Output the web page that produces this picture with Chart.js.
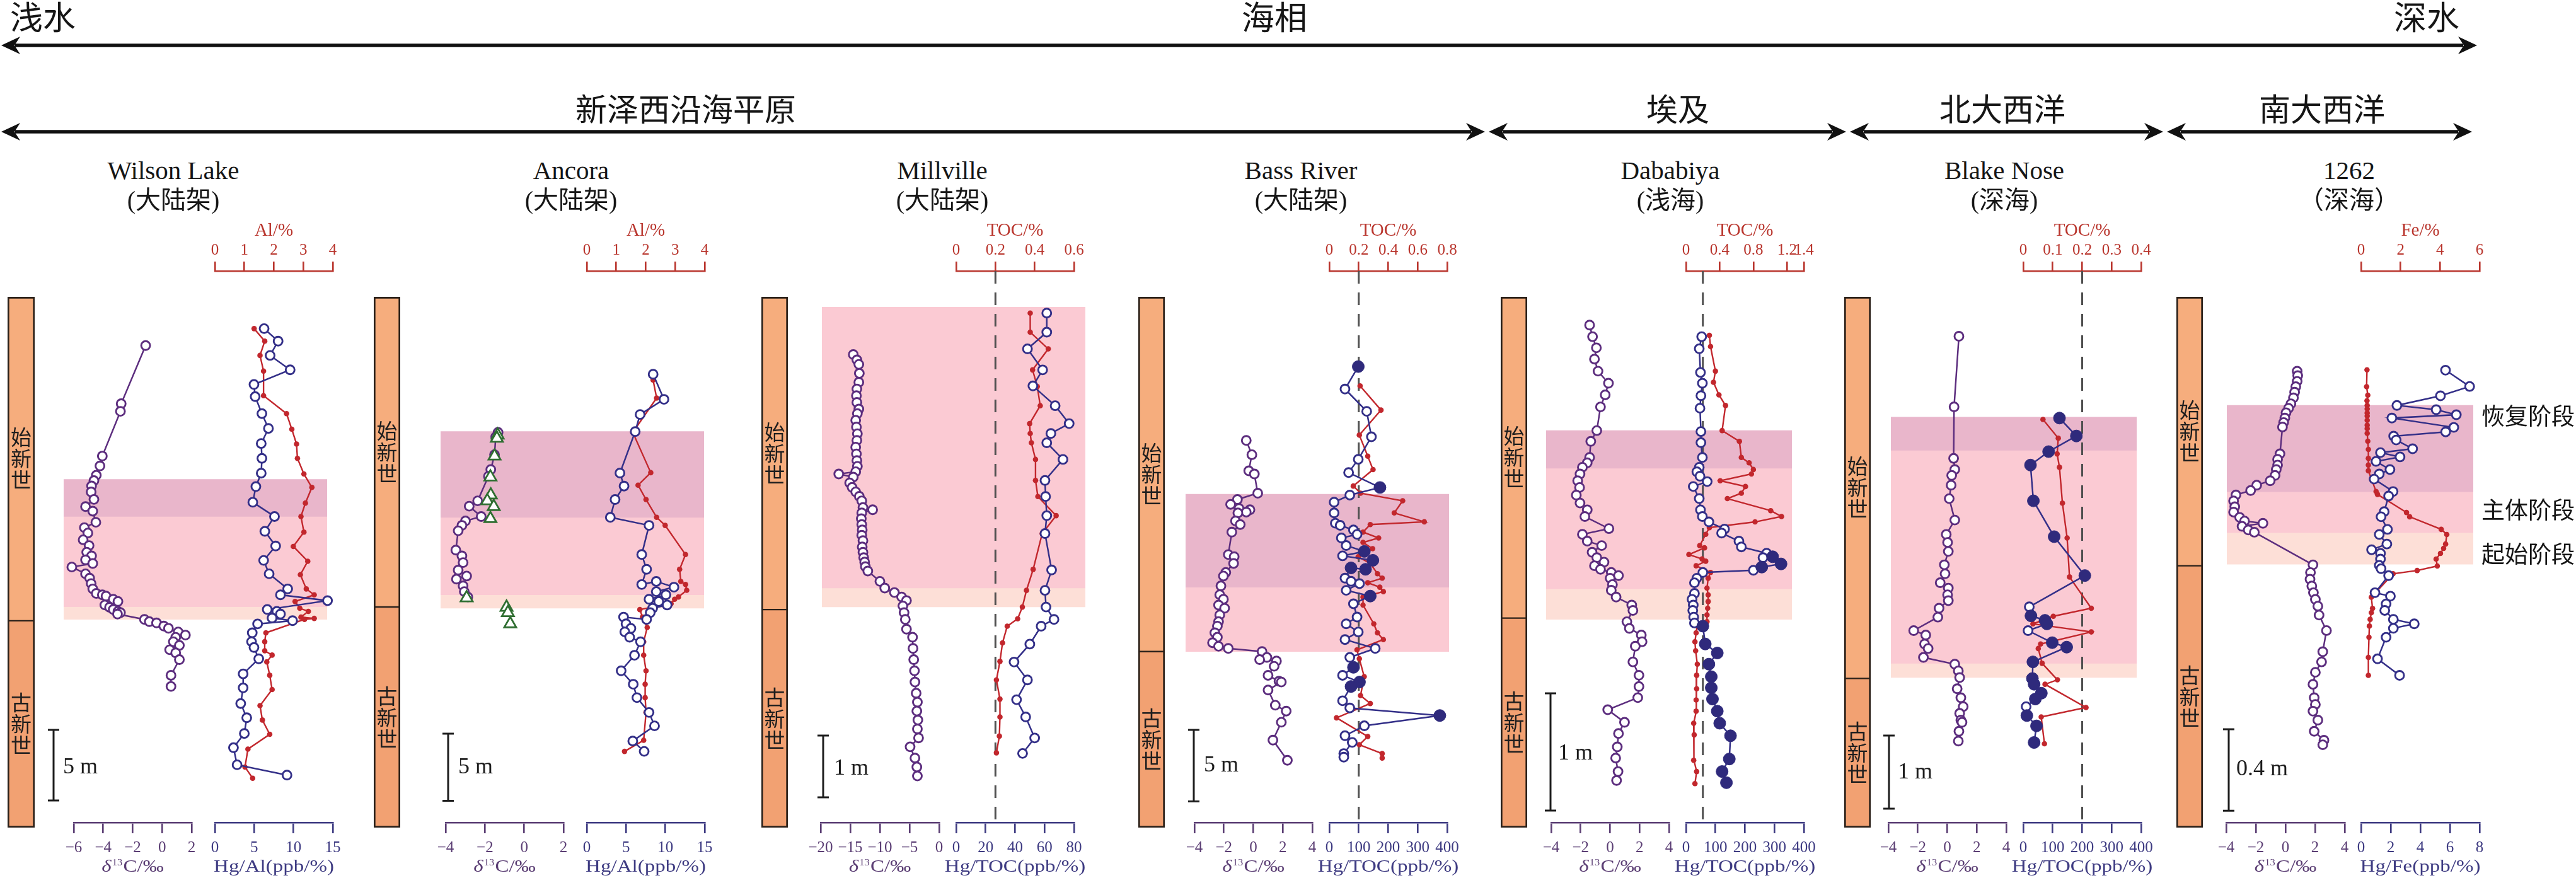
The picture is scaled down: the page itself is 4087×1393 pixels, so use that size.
<!DOCTYPE html>
<html lang="zh">
<head>
<meta charset="utf-8">
<title>PETM 汞记录</title>
<script src="https://cdn.jsdelivr.net/npm/chart.js@4.4.1/dist/chart.umd.min.js"></script>
<style>
html,body{margin:0;padding:0;background:#ffffff;}
#root{position:relative;width:4087px;height:1393px;overflow:hidden;background:#ffffff;}
#root canvas{position:absolute;}
#root svg{position:absolute;left:0;top:0;}
.lbl{position:absolute;white-space:nowrap;line-height:1;color:#161616;font-family:"Liberation Serif","Noto Sans CJK SC",serif;z-index:5;}
.c{transform:translate(-50%,-50%);}
.l{transform:translate(0,-50%);}
</style>
</head>
<body>
<div id="root"></div>
<script>
// ===================== DATA (depth in m) =====================
// ---- Wilson Lake ----
const wlD13cDepth = [5.32,9.44,9.98,13.15,13.85,14.51,14.89,15.27,15.69,16.22,16.73,17.05,17.84,18.22,18.60,19.08,19.49,19.96,20.22,20.50,20.76,21.01,21.49,21.80,22.18,22.56,22.88,22.98,23.07,23.29,23.45,23.70,23.86,24.02,24.15,24.24,24.34,24.72,24.88,24.97,25.19,25.35,25.61,25.83,25.99,26.30,26.56,26.87,27.09,27.57,28.68,29.47];
const wlD13cValue = [-1.12,-2.78,-2.83,-4.06,-4.22,-4.47,-4.63,-4.79,-4.82,-4.63,-5.20,-4.71,-4.50,-5.28,-5.04,-5.36,-4.96,-5.12,-4.79,-5.20,-4.71,-6.13,-5.20,-4.92,-4.82,-4.71,-4.47,-4.06,-3.81,-3.32,-3.00,-3.89,-3.57,-3.32,-3.00,-2.83,-3.03,-1.20,-0.87,-0.38,0.11,0.43,1.09,1.58,0.92,0.76,1.17,0.51,0.92,1.17,0.60,0.60];
const wlHgDepth = [4.12,5.01,6.02,7.04,8.08,8.94,10.14,11.19,12.26,13.31,14.36,15.31,16.42,17.43,18.48,19.52,20.54,21.49,22.56,22.98,23.39,24.02,24.15,24.34,24.62,24.81,25.04,25.67,26.30,26.71,27.51,28.58,29.57,30.68,31.69,32.80,33.81,35.02,35.75];
const wlHgValue = [6.26,8.04,7.02,9.57,4.97,5.12,5.98,6.81,5.89,5.98,5.89,5.21,4.82,7.58,6.35,7.73,6.20,6.90,9.26,8.34,14.33,6.66,7.88,8.34,7.27,9.88,5.43,4.75,4.66,4.97,5.58,3.59,3.59,3.28,4.05,3.74,2.36,2.82,9.17];
const wlAlDepth = [4.12,5.01,6.02,7.13,8.87,10.14,11.25,12.30,13.31,14.42,15.37,16.48,17.43,18.54,19.55,20.60,21.55,22.56,22.98,23.45,23.93,24.15,24.56,24.65,24.72,25.67,26.30,26.94,27.25,27.73,28.68,29.69,30.83,31.85,32.86,33.91,35.18,35.97];
const wlAlValue = [1.33,1.69,1.53,1.65,1.65,2.43,2.61,2.77,2.80,3.02,3.29,3.07,2.92,3.02,2.66,3.15,2.90,3.10,3.37,2.72,2.88,3.17,2.92,3.37,3.04,1.73,1.69,1.69,1.94,1.76,1.86,1.94,1.53,1.61,1.86,1.12,1.02,1.28];
const wlPhaseDepths = [14.80,17.43,23.83,24.72];
const wlPhaseNames = ['恢复阶段','主体阶段','起始阶段'];
const wlBoundary = 24.81;

// ---- Ancora ----
const ancD13cDepth = [12.06,12.40,13.73,14.83,15.33,17.16,17.56,18.33,18.66,18.99,19.39,20.83,21.26,21.76,22.32,22.76,22.99,23.49,23.92,24.32];
const ancD13cValue = [-1.33,-1.45,-1.51,-1.70,-1.82,-2.37,-2.80,-2.19,-2.99,-3.17,-3.36,-3.48,-3.17,-3.11,-3.36,-2.93,-3.45,-3.11,-3.05,-2.87];
const ancTriDepth = [12.26,12.50,13.83,15.39,16.73,17.16,17.59,18.49,24.39,25.09,25.49,26.32];
const ancTriValue = [-1.35,-1.39,-1.51,-1.72,-1.70,-1.88,-1.55,-1.72,-2.93,-0.90,-0.83,-0.71];
const ancHgDepth = [7.73,9.60,10.73,12.00,15.09,16.06,17.06,18.39,18.99,21.16,22.26,23.39,23.16,23.59,23.92,24.16,24.49,24.66,24.92,25.16,25.49,25.99,25.82,26.32,26.66,26.92,27.32,27.66,28.66,29.82,30.82,31.82,32.92,33.92,35.05,35.82];
const ancHgValue = [8.44,9.82,6.78,6.16,4.22,4.74,3.60,2.99,7.92,6.99,7.61,6.99,8.84,11.09,8.84,10.07,7.92,9.15,10.22,8.38,8.07,7.61,4.68,4.99,5.61,4.84,5.45,6.84,6.07,4.37,5.91,6.38,7.92,8.62,5.85,7.30];
const ancAlDepth = [8.16,9.50,12.06,15.06,15.99,17.06,18.39,18.99,21.16,22.26,23.16,23.39,23.82,24.32,24.49,24.82,25.26,25.82,26.59,27.66,28.66,29.82,30.82,31.82,32.92,34.99,35.82];
const ancAlValue = [2.25,2.37,1.56,2.17,1.74,2.01,2.37,2.66,3.35,3.15,3.19,3.35,3.39,3.11,2.98,2.86,1.80,1.89,2.05,1.93,1.93,2.01,1.98,1.98,2.01,1.93,1.28];
const ancPhaseDepths = [12.00,18.39,24.16,25.16];
const ancPhaseNames = ['恢复阶段','主体阶段','起始阶段'];
const ancBoundary = 25.06;

// ---- Millville ----
const milD13cDepth = [1.362,1.449,1.521,1.666,1.811,1.919,2.028,2.137,2.245,2.318,2.426,2.535,2.644,2.752,2.861,2.970,3.078,3.172,3.259,3.296,3.346,3.440,3.513,3.585,3.658,3.730,3.839,3.875,3.926,4.020,4.114,4.201,4.288,4.375,4.476,4.563,4.650,4.722,4.795,4.867,5.034,5.143,5.215,5.287,5.345,5.432,5.541,5.650,5.809,5.939,6.120,6.301,6.482,6.664,6.845,6.990,7.134,7.279,7.424,7.569,7.713,7.895,8.040,8.185];
const milD13cValue = [-14.49,-13.88,-13.55,-13.47,-13.55,-13.88,-13.96,-13.88,-13.55,-13.80,-14.08,-13.96,-13.80,-13.88,-14.08,-13.96,-13.88,-13.80,-14.08,-16.94,-14.49,-15.10,-14.69,-14.08,-13.47,-13.06,-12.86,-11.22,-13.06,-13.14,-13.06,-12.98,-13.06,-12.86,-12.98,-12.86,-12.73,-12.57,-12.45,-12.04,-10.00,-9.18,-7.55,-6.33,-5.51,-6.12,-5.92,-5.71,-5.51,-4.49,-4.41,-4.29,-4.16,-4.08,-3.88,-3.67,-3.76,-3.59,-3.67,-3.47,-4.90,-4.08,-3.76,-3.67];
const milHgDepth = [0.69,1.00,1.27,1.61,1.87,2.19,2.48,2.64,2.79,3.06,3.40,3.66,3.97,4.26,4.85,5.18,5.45,5.65,5.76,6.05,6.34,6.63,6.95,7.23,7.57,7.82];
const milHgValue = [61.5,61.5,48.4,58.7,52.1,67.2,76.7,64.3,61.5,72.5,60.3,60.7,61.5,60.3,64.8,60.3,61.0,66.4,57.7,50.0,39.3,48.4,41.0,47.2,53.3,45.1];
const milTocDepth = [0.69,1.00,1.27,1.61,1.88,2.19,2.48,2.64,2.79,3.06,3.40,3.66,3.97,4.26,4.84,5.18,5.45,5.64,5.76,6.03,6.33,6.63,6.94,7.23,7.54,7.81];
const milTocValue = [0.377,0.377,0.469,0.389,0.413,0.428,0.374,0.377,0.383,0.404,0.404,0.416,0.509,0.438,0.392,0.358,0.337,0.313,0.260,0.236,0.223,0.205,0.223,0.223,0.220,0.205];
const milPhaseDepths = [0.594,5.143,5.447];
const milPhaseNames = ['主体阶段','起始阶段'];
const milBoundary = 5.49;

// ---- Bass River ----
const brD13cDepth = [11.88,12.88,14.01,14.23,15.57,16.01,16.35,16.64,16.73,16.89,16.95,17.51,17.76,18.29,19.86,20.01,20.48,21.11,21.36,22.05,22.67,22.98,23.39,23.61,24.08,24.55,24.86,25.33,25.64,26.02,26.27,26.42,26.64,27.05,27.20,27.30,27.67,28.30,28.71,28.77,29.33,30.39,30.80,31.58,32.83,34.24];
const brD13cValue = [-0.48,-0.10,-0.31,0.07,0.30,-1.08,-1.54,-0.97,-0.23,-0.48,-1.05,-1.21,-0.89,-1.46,-1.70,-1.30,-1.34,-1.87,-2.03,-2.20,-2.28,-2.03,-2.36,-1.95,-2.28,-2.36,-2.44,-2.61,-2.44,-2.77,-2.36,-1.70,0.59,0.92,0.43,1.57,1.41,1.00,1.74,1.90,1.00,1.49,2.23,1.90,1.33,2.31];
const brHgDepth = [6.72,8.29,9.85,11.63,13.20,14.13,15.17,15.70,16.20,16.95,17.67,17.82,18.14,18.45,18.70,19.23,19.64,19.95,20.26,20.89,20.79,21.51,21.73,21.89,22.36,22.76,23.30,24.23,24.70,25.27,25.80,26.42,27.05,27.74,28.30,28.77,29.08,30.08,30.58,31.11,31.83,32.52,32.99,33.77,34.02];
const brHgValue = [98.4,53.3,127.0,143.0,98.4,65.6,172.0,69.7,16.4,16.4,20.5,36.9,82.0,94.3,41.0,57.4,119.0,45.1,148.0,123.0,73.8,53.3,73.8,102.5,57.4,139.0,82.0,94.3,57.4,98.4,53.3,156.0,69.7,82.0,45.1,102.5,73.8,45.1,69.7,375.0,119.0,53.3,77.9,49.2,49.2];
const brHgSolidDepth = [6.72,15.17,19.64,20.26,20.89,20.79,22.76,27.74,28.77,29.08,31.11];
const brHgSolidValue = [98.4,172.0,119.0,148.0,123.0,73.8,139.0,82.0,102.5,73.8,375.0];
const brTocDepth = [8.07,9.76,11.51,12.98,13.92,15.07,15.57,16.10,16.95,17.57,17.76,18.29,18.70,19.01,19.45,20.01,20.48,21.20,21.51,21.83,22.14,22.45,22.83,23.39,24.70,25.33,25.80,26.52,27.14,28.39,29.71,30.27,31.27,32.58,33.15,33.77,34.08];
const brTocValue = [0.209,0.351,0.204,0.261,0.297,0.163,0.212,0.498,0.441,0.645,0.278,0.229,0.335,0.229,0.294,0.196,0.278,0.327,0.359,0.261,0.343,0.367,0.229,0.229,0.302,0.327,0.367,0.188,0.204,0.237,0.212,0.278,0.049,0.261,0.204,0.359,0.359];
const brPhaseDepths = [15.64,22.14,26.64];
const brPhaseNames = ['恢复阶段','主体阶段'];
const brBoundary = 26.64;

// ---- Dababiya ----
const dabD13cDepth = [0.466,0.565,0.660,0.756,0.859,0.962,1.061,1.164,1.366,1.458,1.595,1.641,1.679,1.736,1.794,1.851,1.916,1.984,2.042,2.099,2.202,2.251,2.309,2.347,2.404,2.450,2.488,2.519,2.549,2.576,2.603,2.625,2.679,2.728,2.786,2.854,2.900,2.996,3.053,3.110,3.167,3.205,3.339,3.453,3.549,3.644,3.747,3.854,3.950,4.064,4.159,4.274,4.350];
const dabD13cValue = [-1.39,-1.19,-0.93,-1.06,-0.82,-0.11,-0.33,-0.65,-0.90,-1.31,-1.39,-1.55,-1.88,-2.04,-2.20,-2.07,-2.29,-2.04,-1.55,-1.71,-0.08,-1.88,-1.55,-0.57,-1.22,-0.90,-0.41,-1.06,-0.65,0.08,0.57,0.00,0.16,0.08,0.41,1.47,1.55,1.14,1.31,2.12,2.17,1.71,1.55,1.96,1.96,1.88,-0.16,0.98,0.57,0.49,0.38,0.54,0.44];
const dabHgDepth = [0.565,0.668,0.870,0.962,1.068,1.175,1.374,1.469,1.595,1.679,1.717,1.755,1.801,1.843,1.946,2.042,2.099,2.145,2.206,2.240,2.309,2.358,2.412,2.442,2.450,2.503,2.530,2.557,2.576,2.625,2.664,2.755,2.805,2.854,2.900,2.957,3.007,3.034,3.186,3.263,3.358,3.465,3.560,3.656,3.759,3.862,3.969,4.167,4.274,4.369];
const dabHgValue = [53.1,44.9,49.0,55.5,50.6,47.3,50.6,50.6,55.5,44.9,36.7,47.3,71.8,24.5,44.9,49.0,55.5,77.6,130.6,120.8,179.6,187.8,273.5,293.9,261.2,322.4,257.1,228.6,57.1,36.7,28.6,28.6,20.4,24.5,22.9,26.1,28.6,57.1,65.3,106.1,77.6,85.7,85.7,89.8,106.1,114.3,151.0,146.9,122.4,137.1];
const dabHgSolidDepth = [2.442,2.503,2.530,3.034,3.186,3.263,3.358,3.465,3.560,3.656,3.759,3.862,3.969,4.167,4.274,4.369];
const dabHgSolidValue = [293.9,322.4,257.1,57.1,65.3,106.1,77.6,85.7,85.7,89.8,106.1,114.3,151.0,146.9,122.4,137.1];
const dabTocDepth = [0.553,0.649,0.859,0.954,1.061,1.152,1.366,1.458,1.595,1.641,1.698,1.736,1.794,1.843,1.900,1.946,2.049,2.099,2.145,2.194,2.251,2.347,2.366,2.423,2.461,2.480,2.519,2.576,2.625,2.709,2.767,2.824,2.881,2.938,2.996,3.034,3.091,3.167,3.244,3.358,3.453,3.568,3.663,3.759,3.862,3.961,4.178,4.274,4.377];
const dabTocValue = [0.277,0.291,0.349,0.326,0.391,0.469,0.429,0.634,0.657,0.749,0.800,0.777,0.406,0.706,0.657,0.491,1.006,1.134,0.820,0.277,0.234,0.163,0.220,0.034,0.191,0.234,0.120,0.291,0.263,0.249,0.263,0.263,0.257,0.249,0.249,0.134,0.120,0.106,0.114,0.134,0.126,0.126,0.120,0.120,0.091,0.097,0.091,0.126,0.106];
const dabPhaseDepths = [1.366,1.687,2.717,2.976];
const dabPhaseNames = ['恢复阶段','主体阶段','起始阶段'];
const dabBoundary = 2.965;

// ---- Blake Nose ----
const bnD13cDepth = [0.900,1.866,2.570,2.723,2.803,2.937,3.121,3.414,3.610,3.720,3.843,4.026,4.149,4.271,4.345,4.436,4.516,4.620,4.742,4.926,4.987,5.109,5.171,5.293,5.385,5.477,5.568,5.721,5.844,5.966,6.058,6.150,6.180,6.303,6.437];
const bnD13cValue = [0.79,0.46,0.43,0.51,0.30,0.26,0.13,0.51,-0.07,0.02,0.07,-0.20,-0.15,-0.48,0.07,0.02,0.07,-0.56,-0.64,-2.28,-1.46,-1.54,-1.30,-1.62,0.51,0.75,0.84,0.67,0.92,1.08,0.84,0.92,1.00,0.79,0.75];
const bnHgDepth = [2.019,2.264,2.478,2.662,3.151,3.641,4.173,4.601,4.724,4.785,4.834,4.926,5.091,5.152,5.354,5.581,5.660,5.782,5.862,5.966,6.088,6.229,6.456];
const bnHgValue = [123.0,180.3,86.1,24.6,34.4,104.9,209.0,20.5,26.2,73.8,80.3,16.4,98.4,147.5,32.8,31.1,36.9,61.5,41.0,9.8,12.3,45.1,36.9];
const bnHgSolidDepth = [2.019,2.264,2.478,2.662,3.151,3.641,4.173,4.724,4.785,4.834,5.091,5.152,5.354,5.581,5.660,5.782,5.862,6.088,6.229,6.456];
const bnHgSolidValue = [123.0,180.3,86.1,24.6,34.4,104.9,209.0,26.2,73.8,80.3,98.4,147.5,32.8,31.1,36.9,61.5,41.0,12.3,45.1,36.9];
const bnTocDepth = [2.038,2.295,2.509,2.692,3.182,3.659,4.192,4.620,4.730,4.834,4.944,5.109,5.171,5.373,5.599,5.660,5.978,6.107,6.474];
const bnTocValue = [0.067,0.119,0.115,0.123,0.133,0.149,0.157,0.231,0.102,0.033,0.231,0.059,0.051,0.064,0.116,0.074,0.213,0.061,0.072];
const bnPhaseDepths = [2.007,2.460,5.373,5.568];
const bnPhaseNames = ['恢复阶段','主体阶段','起始阶段'];
const bnBoundary = 5.58;

// ---- ODP 1262 ----
const odpD13cDepth = [0.495,0.517,0.545,0.571,0.598,0.626,0.655,0.677,0.699,0.725,0.747,0.769,0.901,0.928,0.956,0.978,1.007,1.033,1.055,1.081,1.103,1.132,1.161,1.187,1.213,1.231,1.242,1.257,1.275,1.286,1.446,1.484,1.517,1.550,1.583,1.616,1.649,1.693,1.769,1.873,1.923,1.974,2.033,2.099,2.132,2.165,2.209,2.264,2.308,2.330];
const odpD13cValue = [0.79,0.83,0.79,0.70,0.62,0.54,0.37,0.21,0.04,-0.04,-0.12,-0.20,-0.37,-0.53,-0.53,-0.62,-0.70,-1.03,-1.94,-2.35,-3.34,-3.50,-3.42,-3.50,-3.09,-2.76,-1.52,-2.93,-2.51,-2.10,1.86,1.69,1.66,1.78,1.89,2.02,2.19,2.27,2.77,2.52,2.44,2.02,1.86,1.94,2.02,1.86,2.19,1.94,2.60,2.52];
const odpHgDepth = [0.490,0.570,0.616,0.663,0.684,0.709,0.725,0.771,0.793,0.814,0.833,0.876,0.895,0.916,0.938,0.978,1.000,1.025,1.086,1.108,1.185,1.210,1.272,1.297,1.344,1.372,1.390,1.418,1.449,1.465,1.499,1.583,1.600,1.638,1.670,1.714,1.736,1.758,1.802,1.908,1.989];
const odpHgValue = [5.70,7.33,5.36,2.42,5.07,6.43,2.08,6.26,5.71,2.20,2.37,3.48,1.31,2.63,1.01,1.95,1.23,0.88,2.16,1.86,1.56,1.35,1.78,1.23,1.74,0.71,1.31,1.31,1.23,1.35,1.86,0.94,1.98,1.69,1.60,2.18,3.59,2.18,1.69,1.11,2.60];
const odpFeDepth = [0.488,0.571,0.613,0.640,0.663,0.680,0.700,0.715,0.736,0.760,0.777,0.800,0.839,0.879,0.923,0.956,0.984,1.086,1.100,1.189,1.210,1.272,1.297,1.344,1.365,1.390,1.418,1.452,1.474,1.490,1.605,1.660,1.681,1.714,1.747,1.802,1.901,1.989];
const odpFeValue = [0.30,0.28,0.34,0.30,0.31,0.31,0.31,0.31,0.31,0.31,0.31,0.31,0.34,0.37,0.37,0.37,0.37,0.76,0.83,2.30,2.46,4.06,4.34,4.28,4.18,4.02,3.80,3.86,2.84,1.62,0.52,0.58,0.52,0.46,0.42,0.40,0.37,0.37];
const odpPhaseDepths = [0.663,1.087,1.288,1.443];
const odpPhaseNames = ['恢复阶段','主体阶段','起始阶段'];
const odpBoundary = 1.451;

// ---- tick labels ----
const d13cTicksWL = [-6,-4,-2,0,2];
const d13cTicksAnc = [-4,-2,0,2];
const d13cTicksMil = [-20,-15,-10,-5,0];
const d13cTicks = [-4,-2,0,2,4];
const hgAlTicks = [0,5,10,15];
const alTicks = [0,1,2,3,4];
const hgTocTicksMil = [0,20,40,60,80];
const tocTicksMil = [0,0.2,0.4,0.6];
const hgTocTicks = [0,100,200,300,400];
const tocTicksBR = [0,0.2,0.4,0.6,0.8];
const tocTicksDab = [0,0.4,0.8,1.2,1.4];
const tocTicksBN = [0,0.1,0.2,0.3,0.4];
const hgFeTicks = [0,2,4,6,8];
const feTicks = [0,2,4,6];
const tocThreshold = 0.2;
const epochNames = ['始新世','古新世'];

// ===================== STYLE / LAYOUT =====================
const FONT = '"Liberation Serif", "Noto Sans CJK SC", serif';
const CJK = '"Noto Sans CJK SC", "Liberation Serif", sans-serif';
const C_PURPLE = '#5c2d7e';
const C_NAVY = '#332f88';
const C_NAVY_FILL = '#2f2a7c';
const C_RED = '#c2272d';
const C_GREEN = '#2f6e31';
const AX_D = '#5b3e74';
const AX_H = '#3e3b82';
const AX_E = '#b9352d';
const PHASE_COLORS = {'恢复阶段':'#e9b6cb','主体阶段':'#fbcad3','起始阶段':'#fddfd7'};
const EPOCH_COLORS = ['#f6ad7d','#f2a172'];
const CANVAS_TOP = 330, TOP_AREA = 430, BOT_AREA = 1305, CANVAS_BOT = 1393;
const COL_TOP = 471, COL_BOT = 1313;

const SITES = [
  {name:'Wilson Lake', env:'(大陆架)', cx:275, col:[12,55], band:[101,519], d:[117,304], h:[341,528],
   yMin:0.041, yMax:39.11, colMin:1.873, colMax:39.46,
   dTicks:d13cTicksWL, hTicks:hgAlTicks, eTicks:alTicks, hTitle:'Hg/Al(ppb/%)', eTitle:'Al/%',
   d13c:[wlD13cDepth,wlD13cValue], hg:[wlHgDepth,wlHgValue], el:[wlAlDepth,wlAlValue],
   phases:wlPhaseDepths, phaseNames:wlPhaseNames, boundary:wlBoundary,
   bar:{top:32.55,len:5,label:'5 m',dx:-32,tx:15,ty:3}},
  {name:'Ancora', env:'(大陆架)', cx:906, col:[593,635], band:[699,1117], d:[707,894], h:[931,1118],
   yMin:0.043, yMax:41.12, colMin:1.969, colMax:41.49,
   dTicks:d13cTicksAnc, hTicks:hgAlTicks, eTicks:alTicks, hTitle:'Hg/Al(ppb/%)', eTitle:'Al/%',
   d13c:[ancD13cDepth,ancD13cValue], tri:[ancTriDepth,ancTriValue], hg:[ancHgDepth,ancHgValue], el:[ancAlDepth,ancAlValue],
   phases:ancPhaseDepths, phaseNames:ancPhaseNames, boundary:ancBoundary,
   bar:{top:34.5,len:5,label:'5 m',dx:4,tx:16,ty:0}},
  {name:'Millville', env:'(大陆架)', cx:1495, col:[1208,1250], band:[1304,1722], d:[1302,1490], h:[1517,1704],
   yMin:0.0094, yMax:8.939, colMin:0.428, colMax:9.02,
   dTicks:d13cTicksMil, hTicks:hgTocTicksMil, eTicks:tocTicksMil, hTitle:'Hg/TOC(ppb/%)', eTitle:'TOC/%',
   d13c:[milD13cDepth,milD13cValue], hg:[milHgDepth,milHgValue], el:[milTocDepth,milTocValue], dashed:true,
   phases:milPhaseDepths, phaseNames:milPhaseNames, boundary:milBoundary,
   bar:{top:7.53,len:1,label:'1 m',dx:4,tx:17,ty:4}},
  {name:'Bass River', env:'(大陆架)', cx:2064, col:[1806,1848], band:[1881,2299], d:[1895,2082], h:[2109,2296],
   yMin:0.041, yMax:38.59, colMin:1.848, colMax:38.94,
   dTicks:d13cTicks, hTicks:hgTocTicks, eTicks:tocTicksBR, hTitle:'Hg/TOC(ppb/%)', eTitle:'TOC/%',
   d13c:[brD13cDepth,brD13cValue], hg:[brHgDepth,brHgValue], solid:[brHgSolidDepth,brHgSolidValue], el:[brTocDepth,brTocValue], dashed:true,
   phases:brPhaseDepths, phaseNames:brPhaseNames, boundary:brBoundary,
   bar:{top:32.11,len:5,label:'5 m',dx:-1,tx:16,ty:0}},
  {name:'Dababiya', env:'(浅海)', cx:2650, col:[2381,2423], band:[2453,2843], d:[2461,2648], h:[2675,2862],
   yMin:0.005, yMax:4.709, colMin:0.2255, colMax:4.752,
   dTicks:d13cTicks, hTicks:hgTocTicks, eTicks:tocTicksDab, hTitle:'Hg/TOC(ppb/%)', eTitle:'TOC/%',
   d13c:[dabD13cDepth,dabD13cValue], hg:[dabHgDepth,dabHgValue], solid:[dabHgSolidDepth,dabHgSolidValue], el:[dabTocDepth,dabTocValue], dashed:true,
   phases:dabPhaseDepths, phaseNames:dabPhaseNames, boundary:dabBoundary,
   bar:{top:3.607,len:1,label:'1 m',dx:-1,tx:12,ty:3}},
  {name:'Blake Nose', env:'(深海)', cx:3180, col:[2926,2968], band:[3000,3390], d:[2996,3183], h:[3210,3397],
   yMin:0.008, yMax:7.551, colMin:0.3616, colMax:7.62,
   dTicks:d13cTicks, hTicks:hgTocTicks, eTicks:tocTicksBN, hTitle:'Hg/TOC(ppb/%)', eTitle:'TOC/%',
   d13c:[bnD13cDepth,bnD13cValue], hg:[bnHgDepth,bnHgValue], solid:[bnHgSolidDepth,bnHgSolidValue], el:[bnTocDepth,bnTocValue], dashed:true,
   phases:bnPhaseDepths, phaseNames:bnPhaseNames, boundary:bnBoundary,
   bar:{top:6.361,len:1,label:'1 m',dx:1,tx:14,ty:1}},
  {name:'1262', env:'（深海）', cx:3727, col:[3453,3495], band:[3533,3924], d:[3532,3720], h:[3746,3934],
   yMin:0.0029, yMax:2.712, colMin:0.1299, colMax:2.737,
   dTicks:d13cTicks, hTicks:hgFeTicks, eTicks:feTicks, hTitle:'Hg/Fe(ppb/%)', eTitle:'Fe/%',
   d13c:[odpD13cDepth,odpD13cValue], hg:[odpHgDepth,odpHgValue], el:[odpFeDepth,odpFeValue],
   phases:odpPhaseDepths, phaseNames:odpPhaseNames, boundary:odpBoundary,
   bar:{top:2.254,len:0.4,label:'0.4 m',dx:4,tx:12,ty:-1}}
];

// ===================== HELPERS =====================
const root = document.getElementById('root');
Chart.defaults.font.family = FONT;
Chart.defaults.animation = false;

function zip(pair){ const d=pair[0], v=pair[1]; const n=Math.min(d.length,v.length); const a=[]; for(let i=0;i<n;i++) a.push({x:v[i], y:d[i]}); return a; }
function fmtTick(v){ return v < 0 ? '\u2212' + Math.abs(v) : String(v); }
function makeCanvas(l,t,w,h,z){
  const c=document.createElement('canvas');
  c.width=Math.round(w); c.height=Math.round(h);
  c.style.left=Math.round(l)+'px'; c.style.top=Math.round(t)+'px';
  c.style.width=Math.round(w)+'px'; c.style.height=Math.round(h)+'px';
  c.style.zIndex=z; root.appendChild(c); return c;
}
function addText(txt,x,y,size,cls,family){
  const d=document.createElement('div'); d.className='lbl '+(cls||'c'); d.textContent=txt;
  d.style.left=x+'px'; d.style.top=y+'px'; d.style.fontSize=size+'px';
  if(family) d.style.fontFamily=family; root.appendChild(d); return d;
}
const baseOpts = {responsive:false, animation:false, devicePixelRatio:1, events:[],
  plugins:{legend:{display:false}, tooltip:{enabled:false}}};

function bottomAxis(ticks,color){
  return {type:'linear', position:'bottom', min:ticks[0], max:ticks[ticks.length-1],
    afterBuildTicks:(a)=>{a.ticks=ticks.map(v=>({value:v}));},
    afterFit:(a)=>{a.height=CANVAS_BOT-BOT_AREA;},
    grid:{drawOnChartArea:false, drawTicks:true, tickLength:17, color:color, lineWidth:2.6},
    border:{display:true, color:color, width:2.6},
    ticks:{color:color, font:{size:25, family:FONT}, padding:8, autoSkip:false, maxRotation:0, minRotation:0, callback:(v)=>fmtTick(v)},
    title:{display:false}};
}

function titlePlugin(kind,text,color){
  return {id:'btmTitle', afterDraw(chart){
    const sc=chart.scales.x, ctx=chart.ctx, cx=(sc.left+sc.right)/2, y=chart.height-10;
    ctx.save(); ctx.fillStyle=color; ctx.textBaseline='alphabetic';
    ctx.translate(cx,y); ctx.scale(1.18,1);
    if(kind==='d'){
      const f1='italic 28px "Liberation Serif"', f2='14px "Liberation Serif"', f3='28px "Liberation Serif"';
      ctx.font=f1; const w1=ctx.measureText('δ').width;
      ctx.font=f2; const w2=ctx.measureText('13').width;
      ctx.font=f3; const w3=ctx.measureText('C/‰').width;
      let x=-(w1+w2+w3+2)/2; ctx.textAlign='left';
      ctx.font=f1; ctx.fillText('δ',x,0); x+=w1+1;
      ctx.font=f2; ctx.fillText('13',x,-10); x+=w2+1;
      ctx.font=f3; ctx.fillText('C/‰',x,0);
    } else {
      ctx.font='28px "Liberation Serif"'; ctx.textAlign='center'; ctx.fillText(text,0,0);
    }
    ctx.restore();
  }};
}
function scaleBarPlugin(bar){
  return {id:'scaleBar', afterDraw(chart){
    const y=chart.scales.y, ctx=chart.ctx;
    const x=chart.chartArea.left+bar.dx;
    const y0=y.getPixelForValue(bar.top), y1=y.getPixelForValue(bar.top+bar.len);
    ctx.save(); ctx.strokeStyle='#1d1d1d'; ctx.lineWidth=3;
    ctx.beginPath(); ctx.moveTo(x,y0); ctx.lineTo(x,y1);
    ctx.moveTo(x-9,y0); ctx.lineTo(x+9,y0); ctx.moveTo(x-9,y1); ctx.lineTo(x+9,y1); ctx.stroke();
    ctx.fillStyle='#1d1d1d'; ctx.font='36px "Liberation Serif"'; ctx.textAlign='left'; ctx.textBaseline='middle';
    ctx.fillText(bar.label, x+bar.tx, (y0+y1)/2+bar.ty);
    ctx.restore();
  }};
}
const epochLabelPlugin = {id:'epochLabel', afterDatasetsDraw(chart){
  const ctx=chart.ctx;
  chart.data.datasets.forEach((ds,i)=>{
    const el=chart.getDatasetMeta(i).data[0]; if(!el) return;
    const cy=(el.y+el.base)/2; const chars=[...ds.label];
    ctx.save(); ctx.fillStyle='#1e1e1e'; ctx.font='33px '+CJK; ctx.textAlign='center'; ctx.textBaseline='middle';
    chars.forEach((ch,k)=>ctx.fillText(ch, el.x, cy+(k-(chars.length-1)/2)*34));
    ctx.restore();
  });
}};

// ===================== CHARTS =====================
function bandChart(s){
  const cv=makeCanvas(s.band[0], TOP_AREA, s.band[1]-s.band[0], BOT_AREA-TOP_AREA, 1);
  const ds=s.phaseNames.map((nm,i)=>({label:nm, data:[[s.phases[i], s.phases[i+1]]], backgroundColor:PHASE_COLORS[nm],
    borderWidth:0, grouped:false, barPercentage:1, categoryPercentage:1}));
  new Chart(cv,{type:'bar', data:{labels:['PETM'], datasets:ds},
    options:Object.assign({}, baseOpts, {layout:{padding:0},
      scales:{x:{display:false}, y:{display:false, min:s.yMin, max:s.yMax, reverse:true}}})});
}
function epochChart(s){
  const cv=makeCanvas(s.col[0], COL_TOP, s.col[1]-s.col[0], COL_BOT-COL_TOP, 1);
  const ds=[
    {label:epochNames[0], data:[[s.colMin, s.boundary]], backgroundColor:EPOCH_COLORS[0], borderColor:'#2a2019',
     borderWidth:{top:3,left:3,right:3,bottom:1.5}, borderSkipped:false, grouped:false, barPercentage:1, categoryPercentage:1},
    {label:epochNames[1], data:[[s.boundary, s.colMax]], backgroundColor:EPOCH_COLORS[1], borderColor:'#2a2019',
     borderWidth:{top:1.5,left:3,right:3,bottom:3}, borderSkipped:false, grouped:false, barPercentage:1, categoryPercentage:1}
  ];
  new Chart(cv,{type:'bar', data:{labels:['epoch'], datasets:ds},
    options:Object.assign({}, baseOpts, {layout:{padding:0},
      scales:{x:{display:false}, y:{display:false, min:s.colMin, max:s.colMax, reverse:true}}}),
    plugins:[epochLabelPlugin]});
}
function d13cChart(s){
  const padL=80, padR=24;
  const cv=makeCanvas(s.d[0]-padL, CANVAS_TOP, s.d[1]-s.d[0]+padL+padR, CANVAS_BOT-CANVAS_TOP, 2);
  const datasets=[];
  if(s.tri) datasets.push({label:'δ13C (tri)', data:zip(s.tri), showLine:false, pointStyle:'triangle', pointRadius:11,
    pointBorderWidth:2.8, pointBorderColor:C_GREEN, pointBackgroundColor:'#ffffff', clip:false});
  datasets.push({label:'δ13C', data:zip(s.d13c), showLine:true, borderColor:C_PURPLE, borderWidth:2.5,
    pointRadius:7, pointBorderWidth:2.9, pointBorderColor:C_PURPLE, pointBackgroundColor:'#ffffff', clip:false});
  new Chart(cv,{type:'scatter', data:{datasets},
    options:Object.assign({}, baseOpts, {layout:{padding:{left:padL, right:padR, top:TOP_AREA-CANVAS_TOP, bottom:0}},
      elements:{line:{tension:0}},
      scales:{x:bottomAxis(s.dTicks, AX_D), y:{display:false, min:s.yMin, max:s.yMax, reverse:true}}}),
    plugins:[titlePlugin('d','',AX_D), scaleBarPlugin(s.bar)]});
}
function hgChart(s){
  const padL=40, padR=40;
  const cv=makeCanvas(s.h[0]-padL, CANVAS_TOP, s.h[1]-s.h[0]+padL+padR, CANVAS_BOT-CANVAS_TOP, 3);
  const datasets=[];
  if(s.solid) datasets.push({label:'Hg solid', data:zip(s.solid), xAxisID:'x', showLine:false, pointRadius:9.5,
    pointBorderWidth:1, pointBorderColor:C_NAVY_FILL, pointBackgroundColor:C_NAVY_FILL, clip:false});
  datasets.push({label:s.hTitle, data:zip(s.hg), xAxisID:'x', showLine:true, borderColor:C_NAVY, borderWidth:2.5,
    pointRadius:7, pointBorderWidth:2.9, pointBorderColor:C_NAVY, pointBackgroundColor:'#ffffff', clip:false});
  datasets.push({label:s.eTitle, data:zip(s.el), xAxisID:'xe', showLine:true, borderColor:C_RED, borderWidth:2.4,
    pointRadius:4.3, pointBorderWidth:0, pointBackgroundColor:C_RED, clip:false});
  if(s.dashed) datasets.push({label:'TOC 0.2%', data:[{x:tocThreshold,y:s.yMin},{x:tocThreshold,y:s.yMax}], xAxisID:'xe',
    showLine:true, borderColor:'#505050', borderWidth:3, borderDash:[20,14], pointRadius:0, clip:false});
  const e=s.eTicks;
  new Chart(cv,{type:'scatter', data:{datasets},
    options:Object.assign({}, baseOpts, {layout:{padding:{left:padL, right:padR, top:0, bottom:0}},
      elements:{line:{tension:0}},
      scales:{
        x:bottomAxis(s.hTicks, AX_H),
        xe:{type:'linear', position:'top', min:e[0], max:e[e.length-1],
          afterBuildTicks:(a)=>{a.ticks=e.map(v=>({value:v}));},
          afterFit:(a)=>{a.height=TOP_AREA-CANVAS_TOP;},
          grid:{drawOnChartArea:false, drawTicks:true, tickLength:15, color:AX_E, lineWidth:2.6},
          border:{display:true, color:AX_E, width:2.6},
          ticks:{color:AX_E, font:{size:25, family:FONT}, padding:3, autoSkip:false, maxRotation:0, minRotation:0, callback:(v)=>fmtTick(v)},
          title:{display:true, text:s.eTitle, color:AX_E, font:{size:29, family:FONT}, padding:{top:19, bottom:2}}},
        y:{display:false, min:s.yMin, max:s.yMax, reverse:true}}}),
    plugins:[titlePlugin('h', s.hTitle, AX_H)]});
}

SITES.forEach(s=>{
  bandChart(s); epochChart(s); d13cChart(s); hgChart(s);
  addText(s.name, s.cx, 270, 41);
  addText(s.env, s.cx, 318, 40);
});

// ===================== HEADER =====================
(function(){
  const NS='http://www.w3.org/2000/svg';
  const svg=document.createElementNS(NS,'svg');
  svg.setAttribute('width','4087'); svg.setAttribute('height','240'); svg.style.zIndex=4;
  function arrow(x1,x2,y){
    const hl=30, hw=14;
    const ln=document.createElementNS(NS,'line');
    ln.setAttribute('x1',x1+hl-8); ln.setAttribute('x2',x2-hl+8); ln.setAttribute('y1',y); ln.setAttribute('y2',y);
    ln.setAttribute('stroke','#111'); ln.setAttribute('stroke-width','5.5'); svg.appendChild(ln);
    const p1=document.createElementNS(NS,'polygon');
    p1.setAttribute('points',`${x1},${y} ${x1+hl},${y-hw} ${x1+hl-9},${y} ${x1+hl},${y+hw}`); p1.setAttribute('fill','#111'); svg.appendChild(p1);
    const p2=document.createElementNS(NS,'polygon');
    p2.setAttribute('points',`${x2},${y} ${x2-hl},${y-hw} ${x2-hl+9},${y} ${x2-hl},${y+hw}`); p2.setAttribute('fill','#111'); svg.appendChild(p2);
  }
  arrow(2,3930,72);
  arrow(2,2356,209); arrow(2362,2929,209); arrow(2935,3432,209); arrow(3438,3922,209);
  root.appendChild(svg);
  addText('浅水',68,25,52,'c',CJK);
  addText('海相',2022,25,52,'c',CJK);
  addText('深水',3850,25,52,'c',CJK);
  addText('新泽西沿海平原',1088,170,50,'c',CJK);
  addText('埃及',2662,170,50,'c',CJK);
  addText('北大西洋',3177,170,50,'c',CJK);
  addText('南大西洋',3684,170,50,'c',CJK);
  addText('恢复阶段',3937,658,37,'l',CJK);
  addText('主体阶段',3937,807,37,'l',CJK);
  addText('起始阶段',3937,877,37,'l',CJK);
})();
</script>
</body>
</html>
